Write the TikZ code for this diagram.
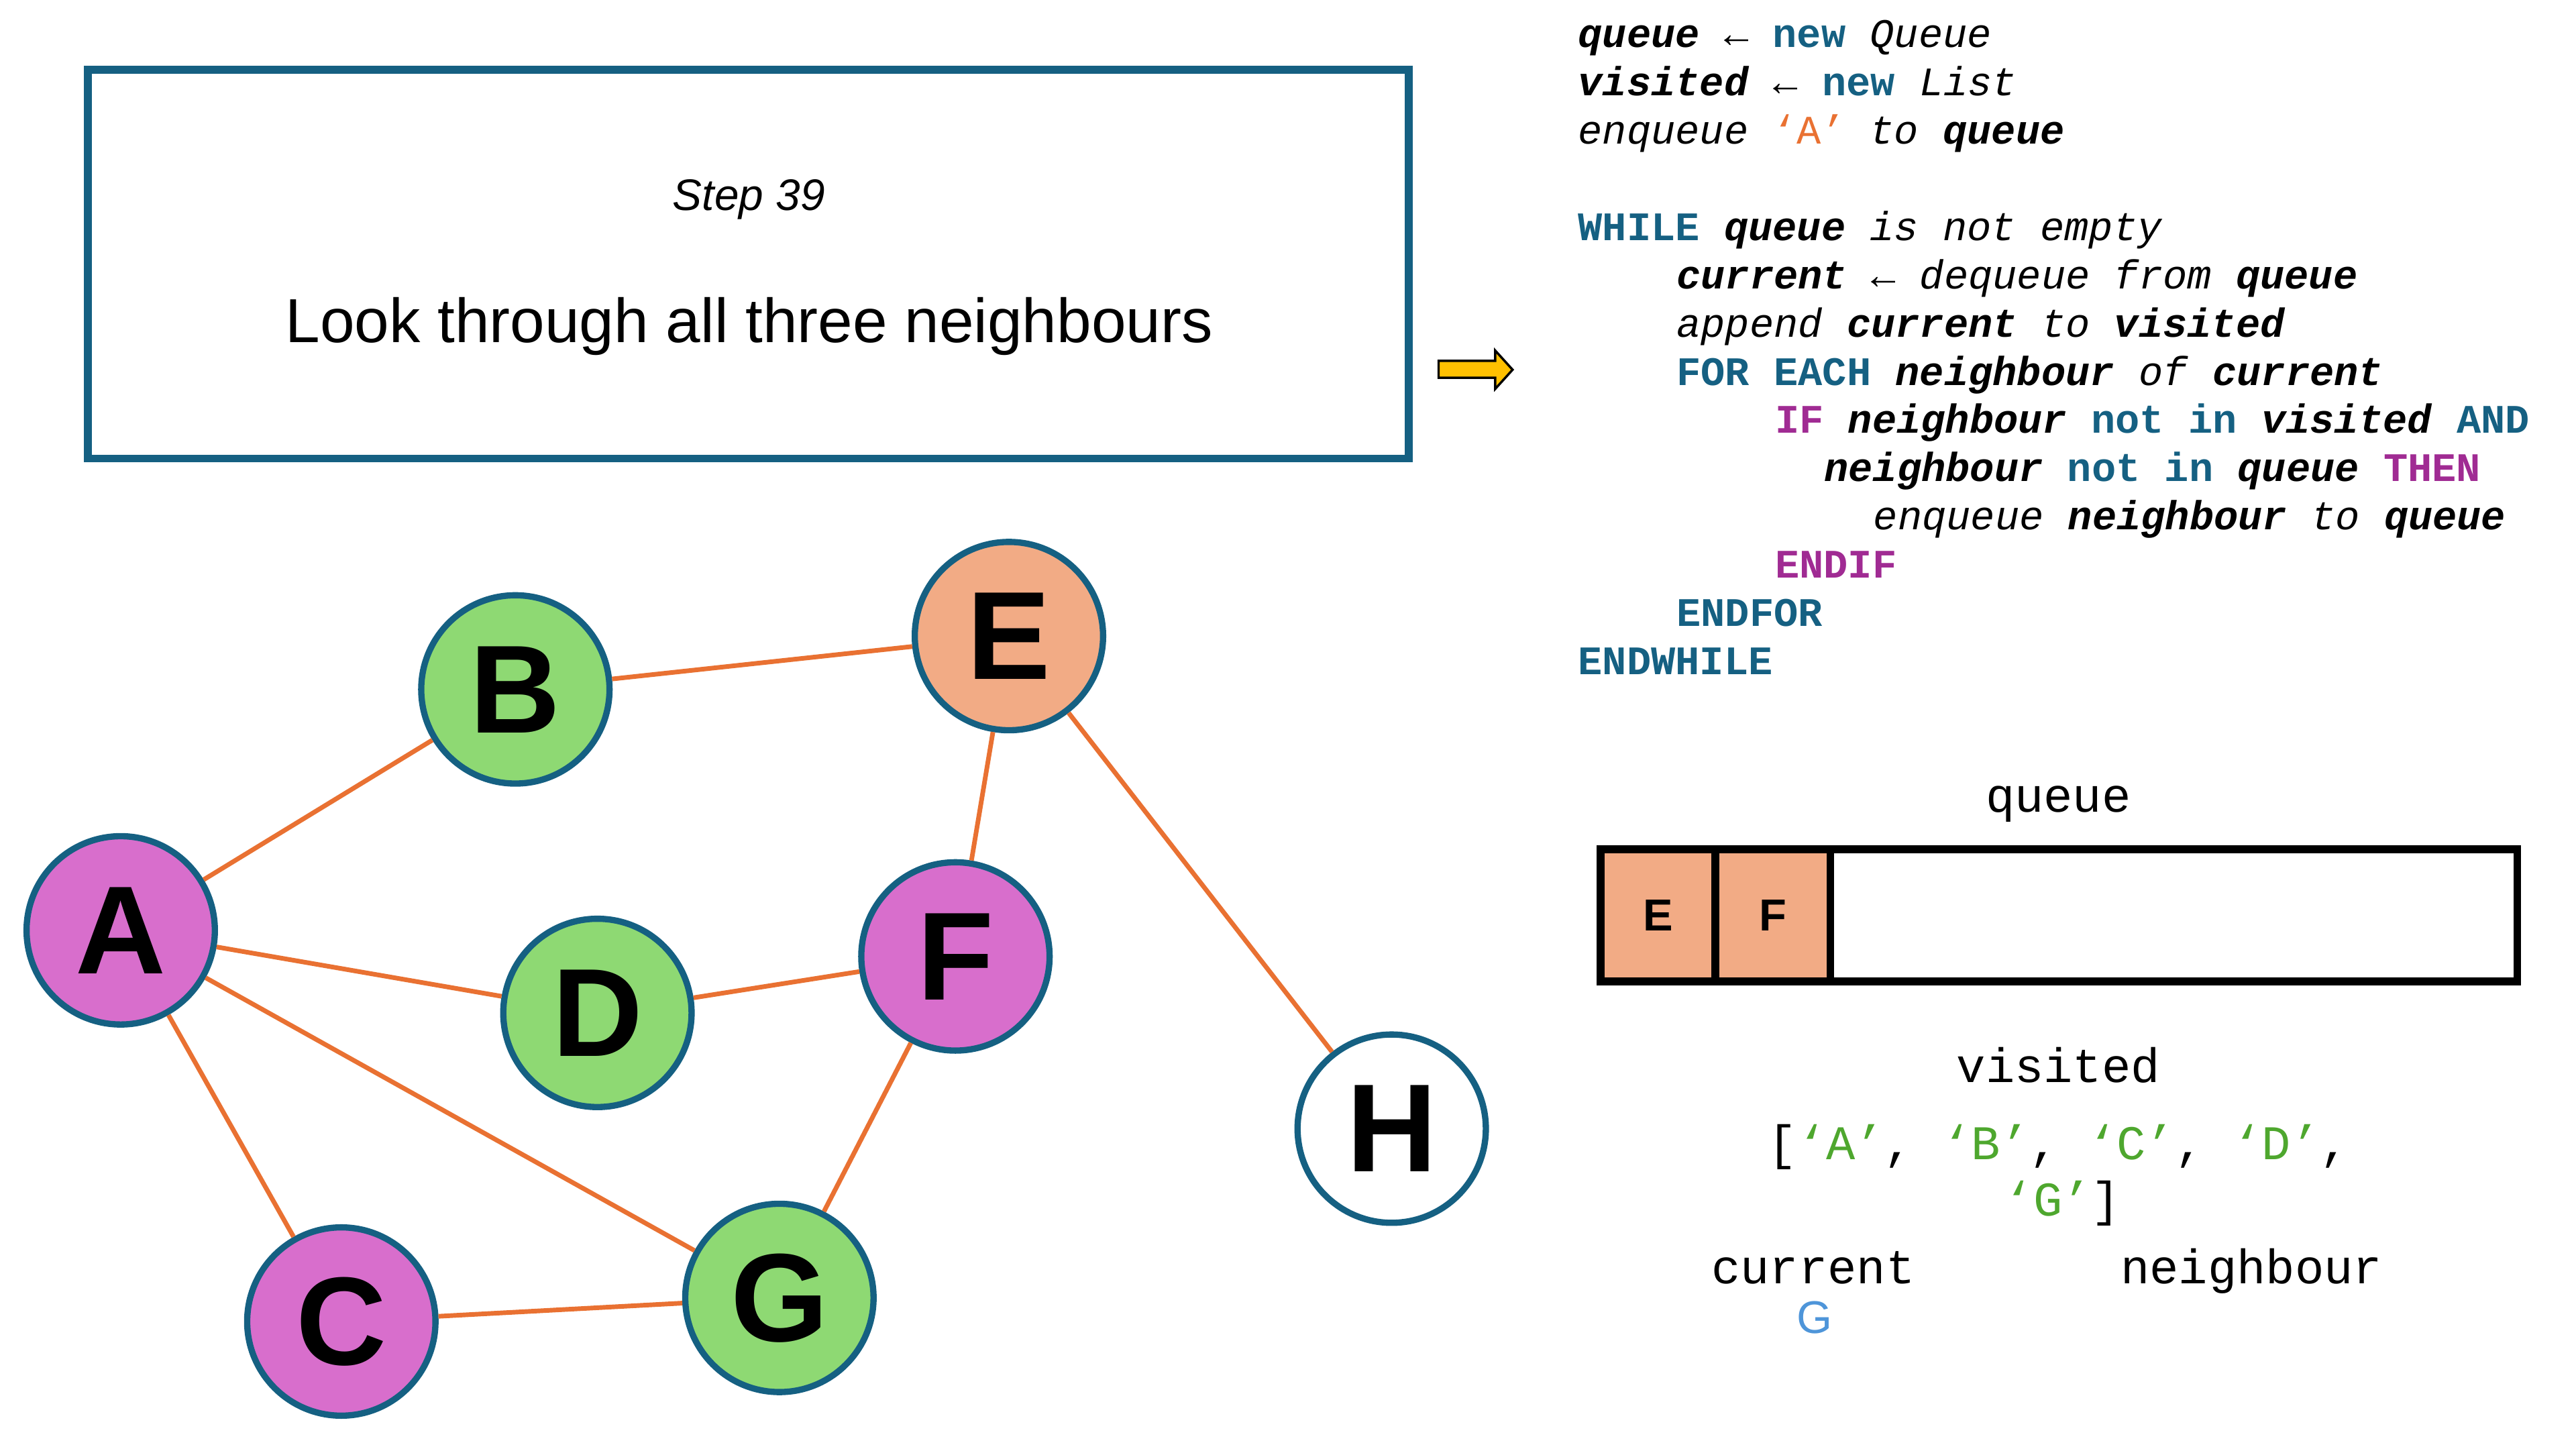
\documentclass[tikz,border=0pt]{standalone}
\usepackage{fontspec}
\setmainfont{Liberation Sans}
\newfontfamily\codefont{Liberation Mono}

\definecolor{nodeblue}{HTML}{156082}
\definecolor{linkorange}{HTML}{E97132}
\definecolor{kwblue}{HTML}{156082}
\definecolor{ctlpurple}{HTML}{A02B93}
\definecolor{visgreen}{HTML}{4EA72E}
\definecolor{curblue}{HTML}{4E95D9}
\definecolor{greenfill}{HTML}{8ED973}
\definecolor{purplefill}{HTML}{D86ECC}
\definecolor{efill}{HTML}{F2AB85}
\definecolor{arrowyellow}{HTML}{FFC000}

\newcommand\ckw[1]{\textcolor{kwblue}{\textbf{#1}}}
\newcommand\cif[1]{\textcolor{ctlpurple}{\textbf{#1}}}
\newcommand\cvar[1]{\textbf{\textit{#1}}}
\newcommand\cit[1]{\textit{#1}}

\tikzset{
    gnode/.style={circle, draw=nodeblue, line width=2.7pt, minimum size=2.85cm, inner sep=0pt,
                  font=\fontsize{54}{54}\selectfont\bfseries},
    link/.style={linkorange, line width=2pt},
    codeline/.style={anchor=base west, inner sep=0pt, font=\codefont\fontsize{17.45}{20.8}\selectfont},
    monolabel/.style={anchor=base, inner sep=0pt, font=\codefont\fontsize{20.85}{24}\selectfont},
    qcell/.style={draw=black, line width=3.3pt, fill=efill, minimum width=1.7375cm, minimum height=2cm,
                  inner sep=0pt, font=\fontsize{19.3}{19.3}\selectfont\bfseries},
}

\begin{document}
\begin{tikzpicture}[x=0.025cm, y=-0.025cm]
    \useasboundingbox (0,0) rectangle (1560,877.5);

    % step box
    \node [draw=nodeblue, line width=3.4pt, minimum width=19.9925cm, minimum height=5.8825cm] (stepbox) at (453.15,159.95) {};
    \node [anchor=base, inner sep=0pt, font=\fontsize{19}{19}\selectfont\itshape] (steptitle) at (453.5,127.5) {Step 39};
    \node [anchor=base, inner sep=0pt, font=\fontsize{26.8}{26.8}\selectfont] (stepdesc) at (453.7,207.4) {Look through all three neighbours};

    % pointer arrow
    \draw [line width=1pt, fill=arrowyellow] (871.2,218.5) -- (905.5,218.5) -- (905.5,212.3) -- (916,223.9)
        -- (905.5,235.5) -- (905.5,228.8) -- (871.2,228.8) -- cycle;

    % graph
    \node [gnode, fill=purplefill] (A) at (73.1,563.4) {A};
    \node [gnode, fill=greenfill]  (B) at (312.1,417.5) {B};
    \node [gnode, fill=purplefill] (C) at (206.7,800.3) {C};
    \node [gnode, fill=greenfill]  (D) at (361.8,613.4) {D};
    \node [gnode, fill=efill]      (E) at (611.0,385.2) {E};
    \node [gnode, fill=purplefill] (F) at (578.6,579.2) {F};
    \node [gnode, fill=greenfill]  (G) at (472.0,786.0) {G};
    \node [gnode, fill=white]      (H) at (842.8,683.5) {H};

    \foreach \from/\to in {A/B,B/E,E/F,E/H,A/D,D/F,A/G,A/C,F/G,C/G}
        \draw [link] (\from) -- (\to);

    % pseudocode
    \node [codeline] (c1)  at (955.5,28.8)   {\cvar{queue} ← \ckw{new} \cit{Queue}};
    \node [codeline] (c2)  at (955.5,58.0)   {\cvar{visited} ← \ckw{new} \cit{List}};
    \node [codeline] (c3)  at (955.5,87.2)   {\cit{enqueue} \textcolor{linkorange}{‘A’} \cit{to} \cvar{queue}};
    \node [codeline] (c4)  at (955.5,145.6)  {\ckw{WHILE} \cvar{queue} \cit{is not empty}};
    \node [codeline] (c5)  at (1015.1,174.8) {\cvar{current} ← \cit{dequeue from} \cvar{queue}};
    \node [codeline] (c6)  at (1015.1,204.0) {\cit{append} \cvar{current} \cit{to} \cvar{visited}};
    \node [codeline] (c7)  at (1015.1,233.2) {\ckw{FOR EACH} \cvar{neighbour} \cit{of} \cvar{current}};
    \node [codeline] (c8)  at (1074.7,262.4) {\cif{IF} \cvar{neighbour} \ckw{not in} \cvar{visited} \ckw{AND}};
    \node [codeline] (c9)  at (1104.5,291.6) {\cvar{neighbour} \ckw{not in} \cvar{queue} \cif{THEN}};
    \node [codeline] (c10) at (1134.3,320.8) {\cit{enqueue} \cvar{neighbour} \cit{to} \cvar{queue}};
    \node [codeline] (c11) at (1074.7,350.0) {\cif{ENDIF}};
    \node [codeline] (c12) at (1015.1,379.2) {\ckw{ENDFOR}};
    \node [codeline] (c13) at (955.5,408.4)  {\ckw{ENDWHILE}};

    % queue
    \node [monolabel] (queuelabel) at (1246.5,491.7) {queue};
    \node [qcell] (qE) at (1004.15,554.3) {E};
    \node [qcell] (qF) at (1073.6,554.3) {F};
    \node [draw=black, line width=3.3pt, minimum width=13.875cm, minimum height=2cm] (queuebox) at (1246.9,554.3) {};

    % visited
    \node [monolabel] (visitedlabel) at (1246.5,655.3) {visited};
    \node [monolabel] (vis1) at (1246.7,702.2) {[\textcolor{visgreen}{‘A’}, \textcolor{visgreen}{‘B’}, \textcolor{visgreen}{‘C’}, \textcolor{visgreen}{‘D’},};
    \node [monolabel, anchor=base west] (vis2) at (1213.5,736.2) {\textcolor{visgreen}{‘G’}]};

    % current and neighbour
    \node [monolabel] (curlabel) at (1098,777.2) {current};
    \node [monolabel] (nbrlabel) at (1363.4,777.2) {neighbour};
    \node [anchor=base, inner sep=0pt, font=\fontsize{19.7}{20}\selectfont, text=curblue] (curval) at (1099,807.6) {G};
\end{tikzpicture}
\end{document}
